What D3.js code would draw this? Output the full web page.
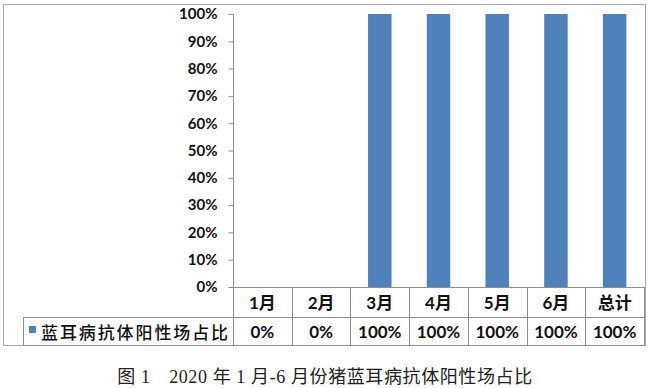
<!DOCTYPE html>
<html>
<head>
<meta charset="utf-8">
<script src="https://cdn.jsdelivr.net/npm/d3@7"></script>
<style>
  body { margin: 0; background: #fff; }
</style>
</head>
<body>
<script>
// data
const months = ["1月", "2月", "3月", "4月", "5月", "6月", "总计"];
const positiveRate = [0, 0, 1, 1, 1, 1, 1];
const yTicks = [0, 0.1, 0.2, 0.3, 0.4, 0.5, 0.6, 0.7, 0.8, 0.9, 1];
const seriesName = "蓝耳病抗体阳性场占比";
const caption = "图 1\u30002020 年 1 月-6 月份猪蓝耳病抗体阳性场占比";

const width = 650, height = 388;
const plot = { left: 233, right: 644, top: 14, bottom: 287 };
const rowH = 29;
const legendLeft = 23;
const barColor = "#4f81bd";
const lineColor = "#8e8e8e";
const numFont = "Lato, 'Noto Sans', sans-serif";
const cjkFont = "'Noto Sans CJK SC', sans-serif";

const svg = d3.select("body").append("svg")
  .attr("width", width)
  .attr("height", height);

// chart frame
svg.append("rect")
  .attr("x", 3.5).attr("y", 4.5)
  .attr("width", 642).attr("height", 341)
  .attr("fill", "none")
  .attr("stroke", "#a8a8a8");

const x = d3.scaleBand()
  .domain(months)
  .range([plot.left, plot.right])
  .paddingInner(0.6)
  .paddingOuter(0.3);

const y = d3.scaleLinear()
  .domain([0, 1])
  .range([plot.bottom, plot.top]);

// bars
svg.selectAll(".bar")
  .data(months)
  .enter().append("rect")
  .attr("class", "bar")
  .attr("x", (d) => x(d))
  .attr("y", (d, i) => y(positiveRate[i]))
  .attr("width", x.bandwidth())
  .attr("height", (d, i) => y(0) - y(positiveRate[i]))
  .attr("fill", barColor);

// y axis
const yAxis = d3.axisLeft(y)
  .tickValues(yTicks)
  .tickSize(5)
  .tickPadding(11)
  .tickFormat(d3.format(".0%"));
const gy = svg.append("g")
  .attr("transform", `translate(${plot.left + 0.5},0)`)
  .call(yAxis);
gy.select(".domain").attr("stroke", lineColor).attr("d", `M-5,${y(1) + 0.5}H0V${y(0) + 0.5}`);
gy.selectAll(".tick line").attr("stroke", lineColor);
gy.selectAll(".tick text")
  .attr("fill", "#111")
  .style("font-family", numFont)
  .style("font-weight", "bold")
  .style("font-size", "15px");

// data table
const step = x.step();
const colEdges = months.map((d) => x(d) + x.bandwidth() / 2 - step / 2).concat([plot.right]);
const table = svg.append("g").attr("stroke", lineColor).attr("shape-rendering", "crispEdges");
const r0 = plot.bottom, r1 = plot.bottom + rowH + 1, r2 = plot.bottom + 2 * rowH;

table.append("line").attr("x1", plot.left).attr("x2", plot.right).attr("y1", r0 + 0.5).attr("y2", r0 + 0.5);
table.append("line").attr("x1", legendLeft).attr("x2", plot.right).attr("y1", r1 + 0.5).attr("y2", r1 + 0.5);
table.append("line").attr("x1", legendLeft).attr("x2", plot.right).attr("y1", r2 + 0.5).attr("y2", r2 + 0.5);
table.append("line").attr("x1", legendLeft + 0.5).attr("x2", legendLeft + 0.5).attr("y1", r1).attr("y2", r2);
table.selectAll(".col")
  .data(colEdges)
  .enter().append("line")
  .attr("x1", (d) => Math.round(d) + 0.5)
  .attr("x2", (d) => Math.round(d) + 0.5)
  .attr("y1", r0)
  .attr("y2", r2);

// category row
svg.selectAll(".cat")
  .data(months)
  .enter().append("text")
  .attr("x", (d) => x(d) + x.bandwidth() / 2)
  .attr("y", r0 + 22)
  .attr("text-anchor", "middle")
  .attr("fill", "#111")
  .style("font-family", `${numFont.split(",")[0]}, ${cjkFont}`)
  .style("font-weight", "bold")
  .style("font-size", "17px")
  .text((d) => d);

// value row
svg.selectAll(".val")
  .data(positiveRate)
  .enter().append("text")
  .attr("x", (d, i) => x(months[i]) + x.bandwidth() / 2)
  .attr("y", r1 + 21)
  .attr("text-anchor", "middle")
  .attr("fill", "#111")
  .style("font-family", numFont)
  .style("font-weight", "bold")
  .style("font-size", "17px")
  .text((d) => d3.format(".0%")(d));

// legend key
svg.append("rect")
  .attr("x", 29).attr("y", 326)
  .attr("width", 7).attr("height", 7)
  .attr("fill", barColor);
svg.append("text")
  .attr("x", 41)
  .attr("y", r1 + 22)
  .attr("fill", "#111")
  .style("font-family", cjkFont)
  .style("font-weight", "500")
  .style("font-size", "17px")
  .style("letter-spacing", "1.9px")
  .text(seriesName);

// caption
svg.append("text")
  .attr("x", 325)
  .attr("y", 383)
  .attr("text-anchor", "middle")
  .attr("fill", "#222")
  .style("font-family", "'Liberation Serif', 'Noto Sans CJK SC', serif")
  .style("font-size", "18px")
  .style("letter-spacing", "0.6px")
  .text(caption);
</script>
</body>
</html>
